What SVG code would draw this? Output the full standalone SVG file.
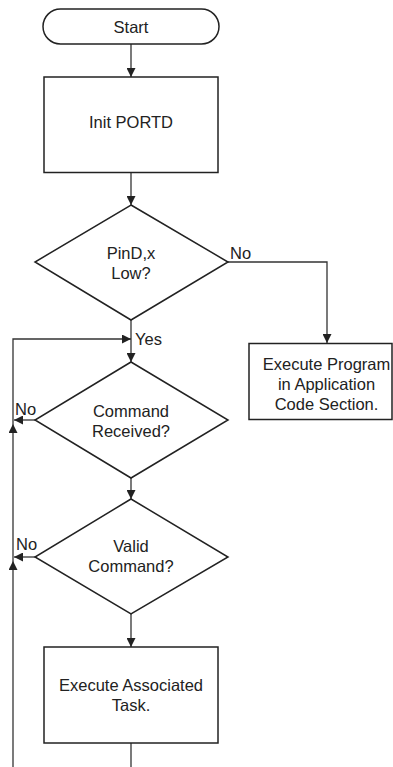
<svg xmlns="http://www.w3.org/2000/svg" width="393" height="767" viewBox="0 0 393 767">
<style>
.shape{fill:#fff;stroke:#222;stroke-width:1.5}
.conn{fill:none;stroke:#333;stroke-width:1.3}
text{font-family:"Liberation Sans",Arial,sans-serif;font-size:16.5px;fill:#222;text-anchor:middle}
.lbl{text-anchor:start}
</style>
<defs>
<marker id="ah" viewBox="0 0 10 10" refX="10" refY="5" markerWidth="10" markerHeight="9" markerUnits="userSpaceOnUse" orient="auto">
<path d="M0,0 L10,5 L0,10 z" fill="#222"/>
</marker>
</defs>
<rect width="393" height="767" fill="#fff"/>
<g id="connectors">
<path class="conn" d="M131,44 V77" marker-end="url(#ah)"/>
<path class="conn" d="M131,172.5 V205" marker-end="url(#ah)"/>
<path class="conn" d="M228,262 H327 V343" marker-end="url(#ah)"/>
<path class="conn" d="M131,320 V362" marker-end="url(#ah)"/>
<path class="conn" d="M13,767 V561" marker-end="url(#ah)"/>
<path class="conn" d="M13,561 V424" marker-end="url(#ah)"/>
<path class="conn" d="M13,424 V339 H131" marker-end="url(#ah)"/>
<path class="conn" d="M35,420 H14" marker-end="url(#ah)"/>
<path class="conn" d="M131,478 V499" marker-end="url(#ah)"/>
<path class="conn" d="M35,557 H14" marker-end="url(#ah)"/>
<path class="conn" d="M131,614 V647" marker-end="url(#ah)"/>
<path class="conn" d="M131,743 V767"/>
<text class="lbl" x="230" y="259">No</text>
<text class="lbl" x="135" y="345">Yes</text>
<text class="lbl" x="15" y="415">No</text>
<text class="lbl" x="16" y="550">No</text>
</g>
<g id="start">
<rect class="shape" x="43" y="9" width="176" height="35" rx="17.5"/>
<text x="131" y="33">Start</text>
</g>
<g id="init">
<rect class="shape" x="44" y="77" width="174" height="95.5"/>
<text x="131" y="128">Init PORTD</text>
</g>
<g id="pind">
<polygon class="shape" points="131,205 228,262 131,320 35,262"/>
<text x="131" y="259">PinD,x</text>
<text x="131" y="279">Low?</text>
</g>
<g id="execprog">
<rect class="shape" x="249" y="343.5" width="143" height="76"/>
<text x="326.5" y="370">Execute Program</text>
<text x="326.5" y="390">in Application</text>
<text x="326.5" y="410">Code Section.</text>
</g>
<g id="cmdrecv">
<polygon class="shape" points="131,362 228,420 131,478 35,420"/>
<text x="131" y="417">Command</text>
<text x="131" y="437">Received?</text>
</g>
<g id="validcmd">
<polygon class="shape" points="131,499 228,557 131,614 35,557"/>
<text x="131" y="552">Valid</text>
<text x="131" y="572">Command?</text>
</g>
<g id="exectask">
<rect class="shape" x="44" y="647" width="174" height="96"/>
<text x="131" y="691">Execute Associated</text>
<text x="131" y="711">Task.</text>
</g>
</svg>
